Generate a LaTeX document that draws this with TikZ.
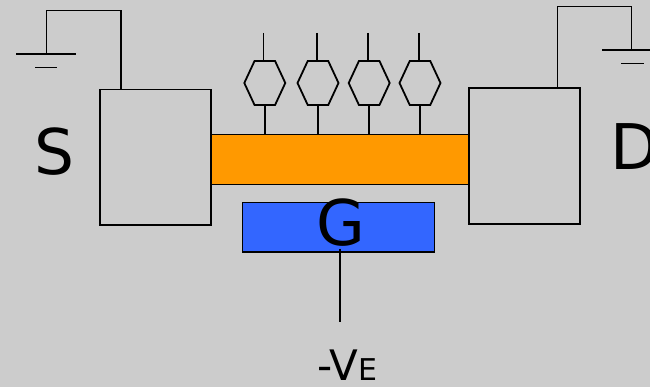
\documentclass[tikz,border=0pt]{standalone}
\usepackage{xcolor}
\usepackage{fontspec}
\setmainfont{DejaVu Sans}
\usepackage{tikz}
\usetikzlibrary{positioning,shapes.geometric}
\definecolor{panelgrey}{HTML}{CCCCCC}
\definecolor{chanorange}{HTML}{FF9900}
\definecolor{gateblue}{HTML}{3366FF}
\newcommand{\bigtxt}{\fontsize{63}{63}\selectfont}
\tikzset{
  elecbox/.style={draw=black, line width=1.8pt, inner sep=0pt, outer sep=0pt, minimum width=111pt},
  chanbox/.style={elecbox, fill=chanorange, minimum width=258pt, minimum height=50pt},
  gatebox/.style={elecbox, fill=gateblue, minimum width=192pt, minimum height=49.5pt},
  hexbox/.style={draw=black, line width=1.8pt, regular polygon, regular polygon sides=6, inner sep=0pt, outer sep=0pt, minimum size=41pt, yscale=1.24, transform shape},
  wire/.style={draw=black, line width=1.8pt},
  bigletter/.style={inner sep=0pt, outer sep=0pt, anchor=base, font=\bigtxt}
}
\begin{document}
\begin{tikzpicture}[x=1pt,y=-1pt]
  \useasboundingbox (0,0) rectangle (650,387);
  \fill[panelgrey] (0,0) rectangle (650,387);
  \clip (0,0) rectangle (650,387);
  \node[chanbox] (chan) at (340,159.5) {};
  \node[elecbox, minimum height=135.5pt] (source) at (155.5,157.25) {};
  \node[elecbox, minimum height=136pt] (drain) at (524.5,156) {};
  \node[gatebox, below=18pt of chan, xshift=-1.5pt] (gate) {};
  % letters
  \node[bigletter] (slabel) at (54,175) {S};
  \node[bigletter, anchor=base west] (dlabel) at (610,169.5) {D};
  \node[bigletter] (glabel) at (341,245.5) {G};
  \node[inner sep=0pt, anchor=base west] (velabel) at (317,380) {\fontsize{42}{42}\selectfont -V\fontsize{30}{30}\selectfont E};
  % side chains
  \foreach \i/\hx/\px in {1/264.8/263.5, 2/318/317, 3/369.2/368.3, 4/420/419.3} {
    \node[hexbox] (hex\i) at (\hx,83) {};
    \coordinate (pin\i) at (\px,33);
    \draw[wire] (pin\i) -- (pin\i |- hex\i.north);
    \draw[wire] (hex\i.south) -- (hex\i.south |- chan.north);
  }
  % source ground
  \coordinate (sgnd) at (46.5,54);
  \coordinate (stop) at (121,10.5);
  \coordinate (sbarl) at (16,54);
  \coordinate (sbarr) at (76,54);
  \coordinate (sdashl) at (35,67.5);
  \coordinate (sdashr) at (57,67.5);
  \draw[wire] (stop |- source.north) -- (stop) -- (sgnd |- stop) -- (sgnd);
  \draw[wire] (sbarl) -- (sbarr);
  \draw[wire] (sdashl) -- (sdashr);
  % drain ground
  \coordinate (dgnd) at (631.5,50);
  \coordinate (dtop) at (557.5,6.5);
  \coordinate (dbarl) at (602,50);
  \coordinate (dbarr) at (662,50);
  \coordinate (ddashl) at (621,63.5);
  \coordinate (ddashr) at (644,63.5);
  \draw[wire] (dtop |- drain.north) -- (dtop) -- (dgnd |- dtop) -- (dgnd);
  \draw[wire] (dbarl) -- (dbarr);
  \draw[wire] (ddashl) -- (ddashr);
  % gate lead
  \coordinate (vend) at (340,322);
  \draw[wire, shorten <=-3pt] (vend |- gate.south) -- (vend);
\end{tikzpicture}
\end{document}
